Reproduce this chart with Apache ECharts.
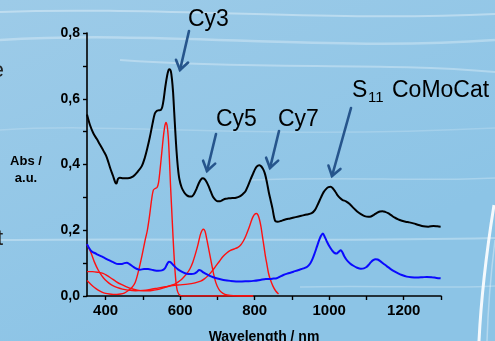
<!DOCTYPE html>
<html>
<head>
<meta charset="utf-8">
<script src="https://cdn.jsdelivr.net/npm/echarts@6/dist/echarts.min.js"></script>
<style>
html,body{margin:0;padding:0;background:#97c8e7;}
#chart{width:495px;height:341px;}
</style>
</head>
<body>
<div id="chart"></div>
<script>
// ---- data ----
var xTickLabels = [400, 600, 800, 1000, 1200];
var xTickMarks = [400, 500, 600, 700, 800, 900, 1000, 1100, 1200, 1300];

var blackNm  = [350,358,367,376,385,395,403,412,420,426,429,433,438,447,460,474,486,497,505,512,519,526,532,537,543,548,552,556,560,565,569,572,575,578,581,584,587,590,594,598,604,611,618,625,631,637,644,650,656,661,666,671,676,682,688,694,700,707,714,722,730,740,750,760,768,775,782,789,796,802,808,813,818,823,828,833,838,843,848,852,856,862,870,880,895,910,925,940,953,962,970,978,985,992,998,1004,1010,1016,1022,1029,1036,1045,1055,1065,1075,1085,1095,1105,1112,1120,1128,1136,1143,1150,1158,1166,1175,1185,1195,1205,1215,1226,1240,1253,1266,1280,1290,1299];
var blackAbs = [0.552,0.52,0.495,0.478,0.46,0.44,0.422,0.39,0.365,0.345,0.342,0.356,0.36,0.358,0.358,0.364,0.378,0.395,0.42,0.45,0.485,0.525,0.555,0.563,0.565,0.566,0.575,0.6,0.635,0.67,0.688,0.69,0.684,0.66,0.62,0.56,0.5,0.445,0.39,0.355,0.33,0.315,0.306,0.303,0.303,0.31,0.326,0.343,0.355,0.358,0.355,0.347,0.335,0.318,0.302,0.293,0.288,0.288,0.292,0.296,0.297,0.298,0.299,0.303,0.31,0.318,0.335,0.355,0.373,0.388,0.396,0.398,0.394,0.385,0.37,0.345,0.315,0.29,0.265,0.24,0.227,0.226,0.228,0.232,0.236,0.24,0.244,0.248,0.252,0.262,0.28,0.3,0.316,0.326,0.331,0.332,0.327,0.318,0.307,0.298,0.292,0.288,0.28,0.268,0.257,0.249,0.243,0.241,0.242,0.247,0.253,0.257,0.258,0.256,0.252,0.246,0.239,0.233,0.229,0.226,0.224,0.221,0.216,0.212,0.211,0.213,0.212,0.211];

var blueNm  = [350,356,363,372,380,393,407,420,434,442,450,457,464,474,483,492,503,514,527,541,551,559,565,570,574,580,586,594,604,613,622,630,638,645,651,656,662,668,678,689,700,716,735,760,780,796,815,830,841,850,859,868,877,890,904,918,931,941,949,955,961,967,973,978,983,988,994,1000,1007,1013,1020,1026,1031,1035,1040,1048,1056,1065,1075,1085,1093,1100,1106,1112,1118,1124,1130,1137,1145,1155,1165,1175,1185,1195,1208,1220,1235,1250,1262,1275,1288,1299];
var blueAbs = [0.158,0.145,0.135,0.13,0.125,0.118,0.11,0.103,0.097,0.097,0.1,0.101,0.097,0.089,0.083,0.08,0.082,0.082,0.079,0.077,0.078,0.084,0.097,0.104,0.103,0.096,0.089,0.081,0.074,0.069,0.067,0.067,0.068,0.073,0.079,0.077,0.072,0.068,0.062,0.057,0.053,0.049,0.046,0.044,0.045,0.046,0.049,0.052,0.052,0.053,0.054,0.059,0.064,0.069,0.074,0.079,0.084,0.089,0.099,0.112,0.13,0.15,0.17,0.183,0.19,0.18,0.165,0.152,0.14,0.132,0.129,0.135,0.139,0.134,0.122,0.108,0.099,0.092,0.086,0.083,0.084,0.088,0.095,0.103,0.109,0.112,0.111,0.106,0.099,0.09,0.082,0.075,0.069,0.064,0.059,0.057,0.056,0.057,0.058,0.057,0.055,0.054];

var cy3Nm  = [350,360,370,380,390,400,410,420,430,440,450,460,470,479,488,497,506,512,518,523,528,533,538,542,546,551,555,559,562,565,568,571,574,577,580,583,586,589,592,596,600,610,650,700,750,796];
var cy3Abs = [0.047,0.036,0.026,0.018,0.012,0.008,0.006,0.005,0.005,0.006,0.009,0.016,0.025,0.04,0.075,0.12,0.17,0.2,0.245,0.29,0.322,0.327,0.33,0.345,0.383,0.44,0.485,0.518,0.528,0.518,0.485,0.42,0.34,0.27,0.2,0.135,0.08,0.04,0.018,0.006,0.002,0,0,0,0,0];

var cy5Nm  = [350,365,380,393,403,415,428,442,456,470,485,500,515,530,545,560,575,588,600,610,618,626,634,641,648,654,659,663,667,672,678,684,690,696,703,710,720,735,760,796];
var cy5Abs = [0.074,0.074,0.072,0.069,0.063,0.054,0.044,0.035,0.028,0.022,0.018,0.016,0.016,0.018,0.021,0.026,0.032,0.038,0.047,0.058,0.068,0.082,0.103,0.128,0.157,0.186,0.2,0.203,0.196,0.17,0.135,0.1,0.066,0.04,0.022,0.012,0.005,0.002,0,0];

var cy7Nm  = [350,356,362,370,380,390,398,408,418,430,445,460,480,500,520,540,560,580,600,620,640,655,665,675,685,695,705,715,725,735,745,755,763,770,777,784,790,795,800,805,809,813,817,821,825,829,833,837,842,849,856,864];
var cy7Abs = [0.157,0.143,0.128,0.103,0.079,0.061,0.05,0.04,0.032,0.026,0.021,0.018,0.016,0.017,0.02,0.024,0.028,0.032,0.034,0.036,0.04,0.045,0.052,0.062,0.075,0.09,0.105,0.12,0.131,0.139,0.143,0.148,0.156,0.168,0.185,0.205,0.225,0.24,0.249,0.251,0.246,0.232,0.21,0.18,0.15,0.12,0.095,0.07,0.05,0.03,0.016,0.006];

var peakLabels = ['Cy3', 'Cy5', 'Cy7'];

function pairs(xs, ys) { return xs.map(function (x, i) { return [x, ys[i]]; }); }

// ---- annotations ----
var ARROW = '#26558c';
function arrow(x1, y1, x2, y2) {
  var dx = x2 - x1, dy = y2 - y1, L = Math.sqrt(dx * dx + dy * dy);
  var ux = -dx / L, uy = -dy / L, a = 0.6, h = 11;
  var w1 = [x2 + h * (ux * Math.cos(a) - uy * Math.sin(a)), y2 + h * (ux * Math.sin(a) + uy * Math.cos(a))];
  var w2 = [x2 + h * (ux * Math.cos(-a) - uy * Math.sin(-a)), y2 + h * (ux * Math.sin(-a) + uy * Math.cos(-a))];
  return [
    { type: 'line', z: 100, shape: { x1: x1, y1: y1, x2: x2, y2: y2 }, style: { stroke: ARROW, lineWidth: 2.6, lineCap: 'round' } },
    { type: 'polyline', z: 100, shape: { points: [w1, [x2, y2], w2] }, style: { stroke: ARROW, lineWidth: 2.6, fill: null, lineJoin: 'miter', lineCap: 'round' } }
  ];
}
function label(txt, x, y, size, weight, align) {
  return { type: 'text', z: 100, x: x, y: y, style: { text: txt, fill: '#000', font: (weight || 'normal') + ' ' + size + 'px "Liberation Sans", Arial, sans-serif', textAlign: align || 'left', align: align || 'left', textVerticalAlign: 'middle', verticalAlign: 'middle' } };
}
function streak(x1, y1, cx1, cy1, cx2, cy2, x2, y2, w, op) {
  return { type: 'bezierCurve', z: -10, silent: true, shape: { x1: x1, y1: y1, cpx1: cx1, cpy1: cy1, cpx2: cx2, cpy2: cy2, x2: x2, y2: y2 }, style: { stroke: 'rgba(255,255,255,' + op + ')', lineWidth: w, fill: null } };
}

var graphics = [
  streak(0, 12, 150, 6, 320, 22, 495, 14, 2, 0.35),
  streak(0, 40, 160, 30, 330, 52, 495, 40, 2.5, 0.3),
  streak(120, 60, 260, 70, 380, 62, 495, 72, 2, 0.3),
  streak(0, 130, 120, 122, 250, 140, 495, 128, 1.5, 0.18),
  streak(0, 240, 180, 238, 330, 242, 495, 238, 2, 0.3),
  streak(250, 180, 350, 176, 420, 182, 495, 178, 1.5, 0.25),
  streak(300, 287, 380, 285, 440, 289, 495, 286, 1.5, 0.25),
  streak(494, 205, 486, 255, 481, 300, 479, 341, 3, 0.9),
  streak(495, 240, 490, 280, 488, 310, 487, 341, 1.5, 0.35),
  { type: 'text', z: 5, x: 4, y: 71, style: { text: 'e', fill: '#222', font: '22px "Liberation Sans", Arial', align: 'right', textAlign: 'right', verticalAlign: 'middle', textVerticalAlign: 'middle' } },
  { type: 'text', z: 5, x: 3, y: 239, style: { text: 't', fill: '#222', font: '22px "Liberation Sans", Arial', align: 'right', textAlign: 'right', verticalAlign: 'middle', textVerticalAlign: 'middle' } },
  label('Abs /', 26, 161, 13, 'bold', 'center'),
  label('a.u.', 26, 178, 13, 'bold', 'center'),
  label(peakLabels[0], 188, 20, 23),
  label(peakLabels[1], 216, 120, 23),
  label(peakLabels[2], 278, 120, 23),
  label('S', 352, 91, 23),
  label('11', 368, 98, 15),
  label('CoMoCat', 392, 91, 23)
].concat(arrow(189, 31, 180, 70))
 .concat(arrow(216, 134, 207, 171))
 .concat(arrow(279, 131, 270, 168))
 .concat(arrow(351, 108, 332, 176));

function lineSeries(name, xs, ys, color, width) {
  return { name: name, type: 'line', data: pairs(xs, ys), showSymbol: false, symbol: 'none', smooth: 0.3, lineStyle: { color: color, width: width }, animation: false, z: 3 };
}

var chart = echarts.init(document.getElementById('chart'), null, { renderer: 'canvas' });
chart.setOption({
  animation: false,
  backgroundColor: { type: 'linear', x: 0, y: 0, x2: 0.3, y2: 1, colorStops: [{ offset: 0, color: '#9dcbe8' }, { offset: 1, color: '#8cc4e6' }] },
  grid: { left: 87, right: 54, top: 33, bottom: 45, containLabel: false, outerBoundsMode: 'none' },
  xAxis: {
    type: 'value', min: 350, max: 1300,
    name: 'Wavelength / nm', nameLocation: 'middle', nameGap: 34,
    nameTextStyle: { color: '#000', fontSize: 14, fontWeight: 'bold', fontFamily: '"Liberation Sans", Arial, sans-serif' },
    axisLine: { show: true, onZero: false, lineStyle: { color: '#000', width: 1.6 } },
    axisTick: { show: true, length: 4, customValues: xTickMarks, lineStyle: { color: '#000', width: 1.4 } },
    axisLabel: { customValues: xTickLabels, color: '#000', fontSize: 15, fontWeight: 'bold', margin: 7, fontFamily: '"Liberation Sans", Arial, sans-serif', formatter: function (v) { return String(v); } },
    splitLine: { show: false }
  },
  yAxis: {
    type: 'value', min: 0, max: 0.8, interval: 0.1,
    axisLine: { show: true, lineStyle: { color: '#000', width: 1.6 } },
    axisTick: { show: true, length: 4, lineStyle: { color: '#000', width: 1.4 } },
    axisLabel: {
      color: '#000', fontSize: 14, fontWeight: 'bold', margin: 7, fontFamily: '"Liberation Sans", Arial, sans-serif',
      formatter: function (v) { var k = Math.round(v * 10); return k % 2 === 0 ? (k / 10).toFixed(1).replace('.', ',') : ''; }
    },
    splitLine: { show: false }
  },
  graphic: graphics,
  series: [
    lineSeries('Cy3', cy3Nm, cy3Abs, '#ff1010', 1.4),
    lineSeries('Cy5', cy5Nm, cy5Abs, '#ff1010', 1.4),
    lineSeries('Cy7', cy7Nm, cy7Abs, '#ff1010', 1.4),
    lineSeries('CoMoCat', blueNm, blueAbs, '#0a0aff', 2),
    lineSeries('Mixture', blackNm, blackAbs, '#000000', 2)
  ]
});
</script>
</body>
</html>
